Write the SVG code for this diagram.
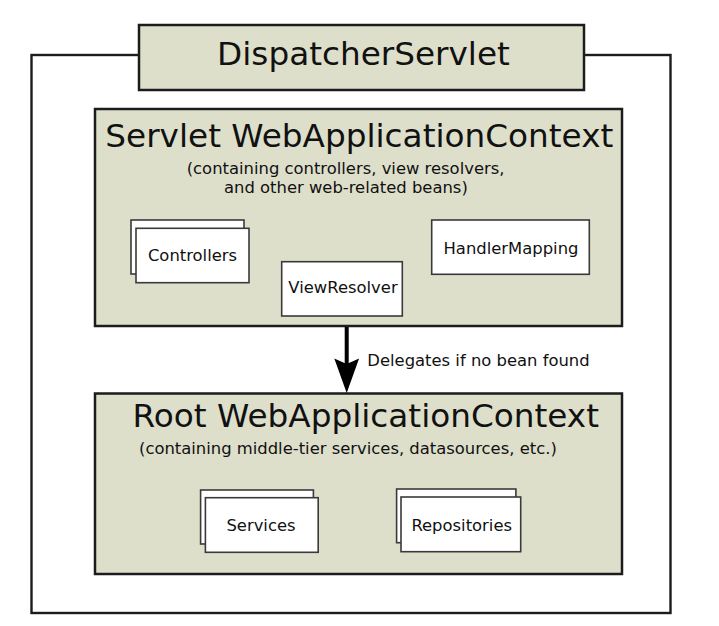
<svg xmlns="http://www.w3.org/2000/svg" width="719" height="626" viewBox="0 0 719 626">
<style>
.ctx{fill:#dddfcb;stroke:#1c1c1c;stroke-width:2.5}
.bean{fill:#ffffff;stroke:#3a3a3a;stroke-width:1.6}
.frame{fill:none;stroke:#1c1c1c;stroke-width:2.4}
text{font-family:"DejaVu Sans","Liberation Sans",sans-serif;fill:#111}
.big{font-size:32.7px;text-anchor:middle}
.small{font-size:16.4px;text-anchor:middle}
</style>
<rect width="719" height="626" fill="#ffffff"/>
<g id="frame">
<rect class="frame" x="31.5" y="55" width="639" height="558"/>
</g>
<g id="dispatcher">
<rect class="ctx" x="139" y="25" width="445" height="65"/>
<text class="big" x="363.5" y="65">DispatcherServlet</text>
</g>
<g id="servlet-context">
<rect class="ctx" x="95" y="109" width="527" height="217"/>
<text class="big" x="359.3" y="146.7">Servlet WebApplicationContext</text>
<text class="small" x="345.6" y="174">(containing controllers, view resolvers,</text>
<text class="small" x="345.9" y="193.3">and other web-related beans)</text>
</g>
<g id="controllers">
<rect class="bean" x="131" y="220" width="113" height="54"/>
<rect class="bean" x="136" y="228.3" width="113" height="54.4"/>
<text class="small" x="192.5" y="261">Controllers</text>
</g>
<g id="viewresolver">
<rect class="bean" x="281.7" y="261.7" width="120.6" height="54.3"/>
<text class="small" x="343" y="293.3">ViewResolver</text>
</g>
<g id="handlermapping">
<rect class="bean" x="431.7" y="220" width="157.6" height="54.3"/>
<text class="small" x="511" y="254.3">HandlerMapping</text>
</g>
<g id="root-context">
<rect class="ctx" x="95" y="393.5" width="527" height="180.5"/>
<text class="big" x="365.8" y="427.3">Root WebApplicationContext</text>
<text class="small" x="347.9" y="454.3">(containing middle-tier services, datasources, etc.)</text>
</g>
<g id="services">
<rect class="bean" x="200.6" y="490" width="112.8" height="54"/>
<rect class="bean" x="205.4" y="497.7" width="112.8" height="54.6"/>
<text class="small" x="261" y="531">Services</text>
</g>
<g id="repositories">
<rect class="bean" x="396.6" y="489" width="119.3" height="53.7"/>
<rect class="bean" x="401" y="497" width="119.7" height="54.7"/>
<text class="small" x="461.7" y="531">Repositories</text>
</g>
<g id="connectors">
<line x1="346.7" y1="327" x2="346.7" y2="364" stroke="#000" stroke-width="4"/>
<polygon points="334.3,358.5 346.7,364 359.1,358.5 346.7,393" fill="#000"/>
<text x="367.3" y="365.7" style="font-size:16.4px">Delegates if no bean found</text>
</g>
</svg>
